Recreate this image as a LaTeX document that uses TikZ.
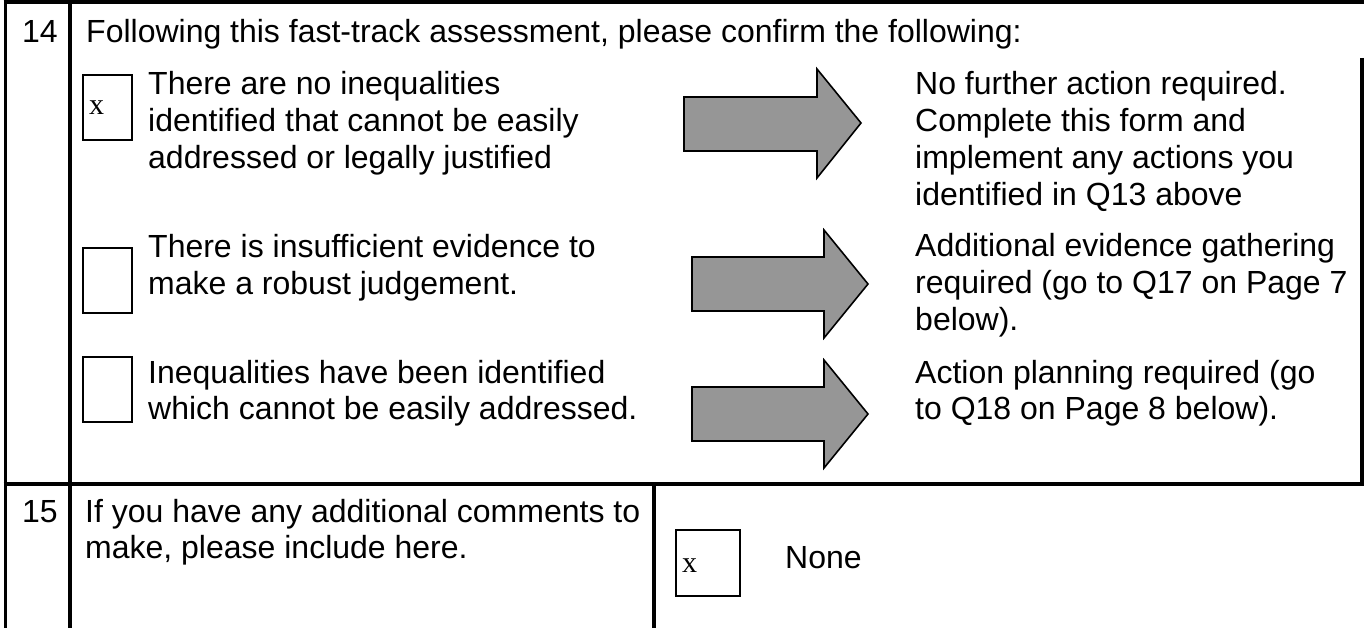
\documentclass[tikz,border=0pt]{standalone}
\usepackage{fontspec}
\setmainfont{Liberation Sans}
\newfontfamily\serifx{Liberation Serif}
\newcommand{\paralines}[1]{\begin{tabular}[t]{@{}l@{}}#1\end{tabular}}
\begin{document}
\begin{tikzpicture}[x=1pt,y=-1pt,
  rule/.style={line width=3.6pt},
  txt/.style={anchor=base west,inner sep=0pt,font=\fontsize{32}{36.8}\selectfont},
  tick/.style={draw,line width=1.3pt},
  xmark/.style={anchor=base west,inner sep=0pt,font=\serifx\fontsize{30}{34}\selectfont},
  bigarrow/.style={draw=black,line width=1.6pt,fill=black!41,line join=miter}]
\useasboundingbox (0,0) rectangle (1364,628);
% table rules
\draw[rule] (3.7,2.3) -- (1363.8,2.3);
\draw[rule] (5.5,0) -- (5.5,628);
\draw[rule] (70,0) -- (70,628);
\draw[rule] (1362,58) -- (1362,484);
\draw[rule] (3.7,484) -- (1364,484);
\draw[rule] (654,484) -- (654,628);
% row 14
\node[txt] (n14) at (22,43) {14};
\node[txt] (head) at (86,43) {Following this fast-track assessment, please confirm the following:};
\draw[tick] (83,75) rectangle (132,140);
\node[xmark] (x1) at (89,115) {x};
\node[txt] (q1) at (148,95) {\paralines{There are no inequalities\\identified that cannot be easily\\addressed or legally justified}};
\draw[tick] (83,248) rectangle (132,313);
\node[txt] (q2) at (148,258) {\paralines{There is insufficient evidence to\\make a robust judgement.}};
\draw[tick] (83,357) rectangle (132,422);
\node[txt] (q3) at (148,383) {\paralines{Inequalities have been identified\\which cannot be easily addressed.}};
% arrows
\draw[bigarrow] (684,97) -- (817,97) -- (817,69) -- (861,123) -- (817,178) -- (817,151) -- (684,151) -- cycle;
\draw[bigarrow] (692,257) -- (824,257) -- (824,230) -- (868,284) -- (824,338) -- (824,311) -- (692,311) -- cycle;
\draw[bigarrow] (692,387) -- (824,387) -- (824,360) -- (868,414) -- (824,468) -- (824,441) -- (692,441) -- cycle;
% outcomes
\node[txt] (a1) at (915,95) {\paralines{No further action required.\\Complete this form and\\implement any actions you\\identified in Q13 above}};
\node[txt] (a2) at (915,257) {\paralines{Additional evidence gathering\\required (go to Q17 on Page 7\\below).}};
\node[txt] (a3) at (915,383) {\paralines{Action planning required (go\\to Q18 on Page 8 below).}};
% row 15
\node[txt] (n15) at (22,522) {15};
\node[txt] (q15) at (85,522) {\paralines{If you have any additional comments to\\make, please include here.}};
\draw[tick] (676,530) rectangle (740,596);
\node[xmark] (x15) at (682,572) {x};
\node[txt] (none) at (785,568) {None};
\end{tikzpicture}
\end{document}
